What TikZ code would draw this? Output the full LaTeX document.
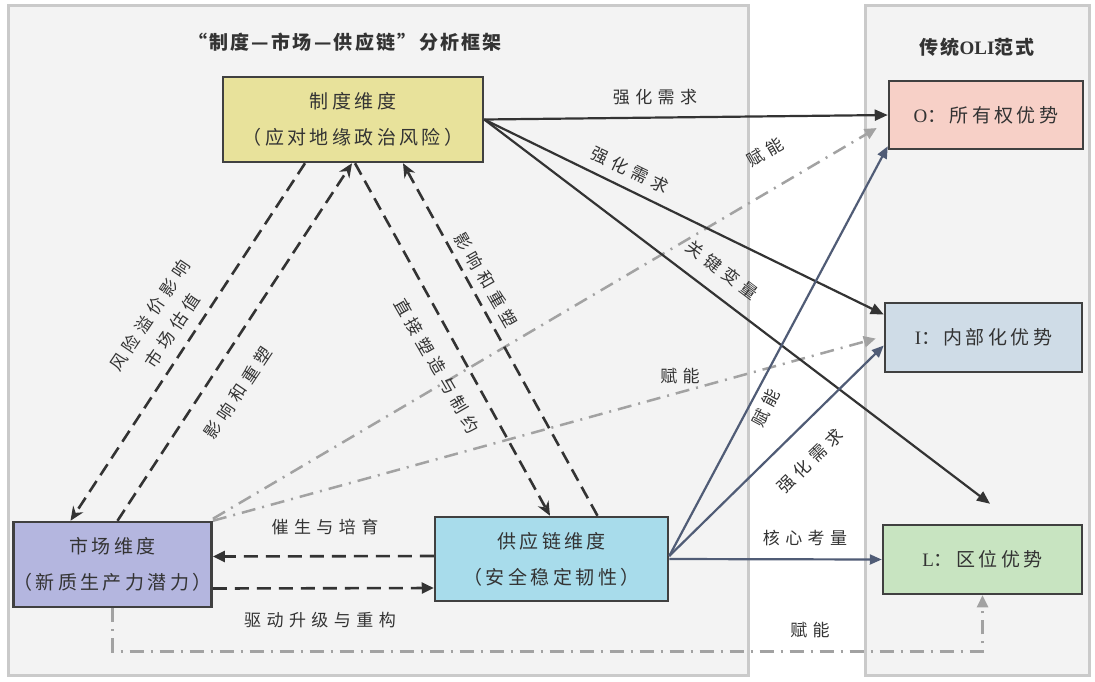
\documentclass[tikz,border=0pt]{standalone}
\usepackage{fontspec}
\usetikzlibrary{arrows.meta,calc}
\newfontfamily\cjk{Noto Sans CJK SC}[LetterSpace=18]
\newfontfamily\cjktitle{Noto Sans CJK SC}[LetterSpace=12]
\newfontfamily\cjklab{Noto Sans CJK SC}[LetterSpace=32]
\newfontfamily\latser{Liberation Serif}
\definecolor{cpanel}{HTML}{F3F3F3}
\definecolor{cpanelb}{HTML}{CACACA}
\definecolor{cborder}{HTML}{404040}
\definecolor{cdark}{HTML}{333333}
\definecolor{cblue}{HTML}{505C76}
\definecolor{cgray}{HTML}{A2A2A2}
\definecolor{cyel}{HTML}{E8E29B}
\definecolor{cpur}{HTML}{B4B6DF}
\definecolor{ccyan}{HTML}{A8DCEB}
\definecolor{cpink}{HTML}{F7D0C7}
\definecolor{cibl}{HTML}{CFDCE7}
\definecolor{cgrn}{HTML}{C8E4C1}
\tikzset{
  panel/.style={draw=cpanelb, fill=cpanel, line width=3pt},
  box/.style={draw=cborder, line width=2.5pt, align=center, inner sep=0pt, text=cdark,
    font=\cjk\fontsize{19}{36}\selectfont},
  lbl/.style={text=cdark, align=center, inner sep=0pt, font=\cjklab\fontsize{17}{27}\selectfont},
  solidarr/.style={draw=cdark, line width=2.2pt, -{Triangle[length=13pt,width=11pt]}},
  bluearr/.style={draw=cblue, line width=2.2pt, -{Triangle[length=12pt,width=10pt]}},
  grayarr/.style={draw=cgray, line width=2.5pt, dash pattern=on 14pt off 7pt on 2pt off 7pt,
    -{Triangle[length=12pt,width=11pt]}},
  dasharr/.style={draw=cdark, line width=2.6pt, dash pattern=on 13pt off 7pt,
    -{Stealth[length=14pt,width=12pt]}},
  hdasharr/.style={draw=cdark, line width=2.6pt, dash pattern=on 14pt off 8pt,
    -{Triangle[length=12pt,width=11pt]}},
}
\begin{document}
\begin{tikzpicture}[x=1pt,y=-1pt]
\useasboundingbox (0,0) rectangle (1095,681);
\fill[white] (0,0) rectangle (1095,681);
\draw[panel] (8,5) rectangle (748,675);
\draw[panel] (865,5) rectangle (1089,675);

\node[text=cdark, font=\cjktitle\bfseries\fontsize{19}{19}\selectfont] (title) at (345,42) {“制度—市场—供应链”分析框架};
\node[text=cdark, font=\cjktitle\bfseries\fontsize{19}{19}\selectfont] (title2) at (977,47) {传统{\latser\bfseries OLI}范式};

% boxes
\node[box, fill=cyel, minimum width=260pt, minimum height=85pt] (zhidu) at (353,119.5) {制度维度\\（应对地缘政治风险）};
\node[box, fill=cpur, minimum width=197pt, minimum height=85pt] (shichang) at (112.5,564.5) {市场维度\\（新质生产力潜力）};
\node[box, fill=ccyan, minimum width=233pt, minimum height=84pt] (gyl) at (551.5,559) {供应链维度\\（安全稳定韧性）};
\node[box, fill=cpink, minimum width=194pt, minimum height=68pt] (O) at (986,115) {{\latser O}：所有权优势};
\node[box, fill=cibl, minimum width=197pt, minimum height=69pt] (I) at (983.5,337.5) {{\latser I}：内部化优势};
\node[box, fill=cgrn, minimum width=199pt, minimum height=69pt] (L) at (982.5,559.5) {{\latser L}：区位优势};

% gray dash-dot (enabling)
\draw[grayarr] ([yshift=2pt]shichang.north east) -- ([xshift=-11pt,yshift=-13pt]O.west);
\draw[grayarr] (shichang.north east) -- ([xshift=-8pt,yshift=-1pt]I.west);
\draw[grayarr] (shichang.south) -- ++(0,43) -| (L.south);

% institution -> OLI
\draw[solidarr] (zhidu.east) -- (O.west);
\draw[solidarr] (zhidu.east) -- ([yshift=23pt]I.west);
\draw[solidarr] (zhidu.east) -- ([xshift=7.5pt,yshift=20pt]L.north);

% supply chain -> OLI
\draw[bluearr] ([yshift=3pt]gyl.east) -- ([yshift=4pt]O.south west);
\draw[bluearr] ([yshift=3pt]gyl.east) -- ([yshift=-8pt]I.west);
\draw[bluearr] (gyl.east) -- (L.west);

% triangle dashed
\draw[dasharr] ([xshift=-48pt]zhidu.south) -- ([xshift=-42pt]shichang.north);
\draw[dasharr] ([xshift=5pt]shichang.north) -- ([xshift=-1pt]zhidu.south);
\draw[dasharr] ([xshift=2pt]zhidu.south) -- ([xshift=-1.5pt]gyl.north);
\draw[dasharr] ([xshift=46pt]gyl.north) -- ([xshift=50pt]zhidu.south);
\draw[hdasharr] ([yshift=3pt]gyl.west) -- ([yshift=8pt]shichang.east);
\draw[hdasharr] ([yshift=-24pt]shichang.east) -- ([yshift=-29pt]gyl.west);

% labels
\node[lbl] (t1) at (655,97) {强化需求};
\node[lbl, rotate=-26] (t2) at (630,170) {强化需求};
\node[lbl, rotate=-37] (t3) at (722,270) {关键变量};
\node[lbl, rotate=30] (t4) at (765,152) {赋能};
\node[lbl] (t5) at (680,376) {赋能};
\node[lbl, rotate=62] (t6) at (766,408) {赋能};
\node[lbl, rotate=44] (t7) at (810,461) {强化需求};
\node[lbl] (t8) at (805,538) {核心考量};
\node[lbl] (t9) at (810,630) {赋能};
\node[lbl] (t10) at (325,527) {催生与培育};
\node[lbl] (t11) at (320,620) {驱动升级与重构};
\node[lbl, rotate=56] (t12) at (161,323) {风险溢价影响\\市场估值};
\node[lbl, rotate=56] (t13) at (238,393) {影响和重塑};
\node[lbl, rotate=-60] (t14) at (437,366) {直接塑造与制约};
\node[lbl, rotate=-60] (t15) at (486,280) {影响和重塑};
\end{tikzpicture}
\end{document}
